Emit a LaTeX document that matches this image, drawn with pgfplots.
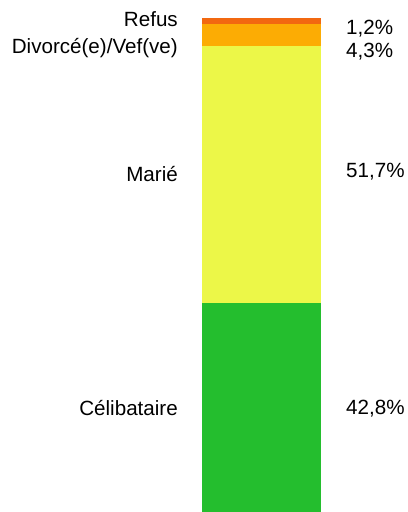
\documentclass[border=0pt]{standalone}
\usepackage{fontspec}
\setmainfont{Liberation Sans}
\usepackage{pgfplots}
\pgfplotsset{compat=1.18}
\definecolor{refus}{RGB}{242,104,16}
\definecolor{divorce}{RGB}{252,172,4}
\definecolor{marie}{RGB}{236,247,72}
\definecolor{celib}{RGB}{36,190,46}
\begin{document}
\begin{tikzpicture}[lbl/.style={font=\fontsize{20.6bp}{24bp}\selectfont, inner sep=0pt}]
\begin{axis}[
  width=408bp, height=512bp, scale only axis,
  hide axis,
  xmin=-261.5, xmax=146.5, ymin=0.7, ymax=103.7,
  ybar stacked, bar width=119bp,
  every axis plot/.append style={draw=none},
]
\addplot[fill=celib] coordinates {(0,42.8)};
\addplot[fill=marie] coordinates {(0,51.7)};
\addplot[fill=divorce] coordinates {(0,4.3)};
\addplot[fill=refus] coordinates {(0,1.2)};
\path (rel axis cs:0,0) rectangle (rel axis cs:1,1);
% category names on the left
\node[lbl, anchor=base east] at (axis cs:-83.5,98.3) {Refus};
\node[lbl, anchor=base east] at (axis cs:-83.5,93.0) {Divorcé(e)/Vef(ve)};
\node[lbl, anchor=base east] at (axis cs:-83.5,67.1) {Marié};
\node[lbl, anchor=base east] at (axis cs:-83.5,20.2) {Célibataire};
% shares on the right
\node[lbl, anchor=base west] at (axis cs:84.5,96.8) {1,2\%};
\node[lbl, anchor=base west] at (axis cs:84.5,92.2) {4,3\%};
\node[lbl, anchor=base west] at (axis cs:84.5,67.9) {51,7\%};
\node[lbl, anchor=base west] at (axis cs:84.5,20.4) {42,8\%};
\end{axis}
\end{tikzpicture}
\end{document}
